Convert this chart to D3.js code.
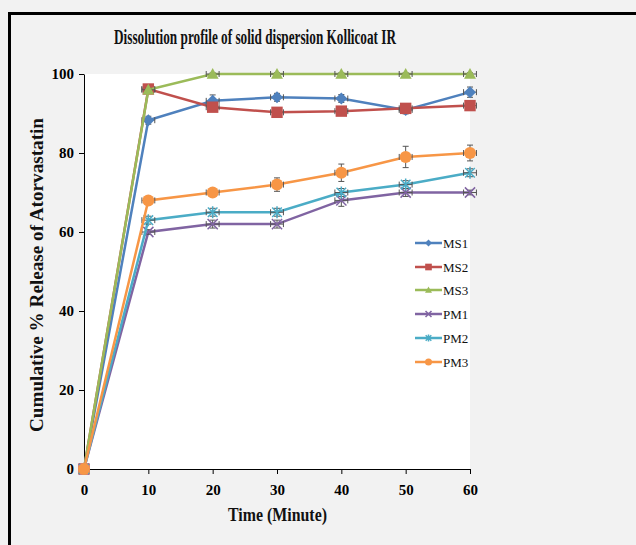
<!DOCTYPE html>
<html>
<head>
<meta charset="utf-8">
<script src="https://cdn.jsdelivr.net/npm/d3@7"></script>
<style>
  html, body { margin: 0; padding: 0; background: #f2f2f2; }
  svg { display: block; }
  .tick text { font-family: "Liberation Serif", "Times New Roman", serif; font-weight: bold; font-size: 15px; fill: #000; }
  .title { font-family: "Liberation Serif", "Times New Roman", serif; font-weight: bold; fill: #111; }
  .legend text { font-family: "Liberation Serif", "Times New Roman", serif; font-size: 13px; fill: #111; }
</style>
</head>
<body>
<div id="chart"></div>
<script>
// data
const times = [0, 10, 20, 30, 40, 50, 60];
const seriesNames = ['MS1', 'MS2', 'MS3', 'PM1', 'PM2', 'PM3'];
const ms1 = [0, 88.3, 93.2, 94.1, 93.8, 90.9, 95.4];
const ms2 = [0, 96.2, 91.6, 90.3, 90.6, 91.3, 92.0];
const ms3 = [0, 96.0, 100, 100, 100, 100, 100];
const pm1 = [0, 60, 62, 62, 68, 70, 70];
const pm2 = [0, 63, 65, 65, 70, 72, 75];
const pm3 = [0, 68, 70, 72, 75, 79, 80];
const ms1Err = [0, 1, 1.5, 1, 1, 1, 1.3];
const ms2Err = [0, 1, 1, 1, 1, 1, 1];
const ms3Err = [0, 0.4, 0.3, 0.3, 0.3, 0.3, 0.3];
const pm1Err = [0, 0.6, 1, 1, 1.5, 1, 0.6];
const pm2Err = [0, 1, 1, 1, 1, 1, 1];
const pm3Err = [0, 0.8, 1, 1.7, 2.2, 2.7, 2];
const timeErr = 1;
const xTicks = [0, 10, 20, 30, 40, 50, 60];
const yTicks = [0, 20, 40, 60, 80, 100];

const colors = ['#4f81bd', '#c0504d', '#9bbb59', '#8064a2', '#4bacc6', '#f79646'];
const markers = ['diamond', 'square', 'triangle', 'x', 'asterisk', 'circle'];
const values = [ms1, ms2, ms3, pm1, pm2, pm3];
const errors = [ms1Err, ms2Err, ms3Err, pm1Err, pm2Err, pm3Err];

const series = seriesNames.map((name, i) => ({
  name,
  color: colors[i],
  marker: markers[i],
  points: times.map((t, j) => ({ t, v: values[i][j], e: errors[i][j] })),
}));

const W = 636;
const H = 545;
const plot = { left: 84, right: 470, top: 74, bottom: 469 };

const svg = d3.select('#chart').append('svg')
  .attr('width', W)
  .attr('height', H);

svg.append('rect').attr('width', W).attr('height', H).attr('fill', '#f2f2f2');

// outer frame
svg.append('rect')
  .attr('x', 9.5).attr('y', 13.5)
  .attr('width', 700).attr('height', 600)
  .attr('fill', 'none')
  .attr('stroke', '#000')
  .attr('stroke-width', 3);

svg.append('rect')
  .attr('x', plot.left).attr('y', plot.top)
  .attr('width', plot.right - plot.left)
  .attr('height', plot.bottom - plot.top)
  .attr('fill', '#fff');

const x = d3.scaleLinear().domain([0, 60]).range([plot.left, plot.right]);
const y = d3.scaleLinear().domain([0, 100]).range([plot.bottom, plot.top]);

// axes
svg.append('g')
  .attr('transform', `translate(0,${plot.bottom})`)
  .call(d3.axisBottom(x).tickValues(xTicks).tickSize(5).tickPadding(10).tickSizeOuter(0))
  .call((g) => g.selectAll('line, path').attr('stroke', '#000'));

svg.append('g')
  .attr('transform', `translate(${plot.left},0)`)
  .call(d3.axisLeft(y).tickValues(yTicks).tickSize(5).tickPadding(5).tickSizeOuter(0))
  .call((g) => g.selectAll('line, path').attr('stroke', '#000'));

// titles
svg.append('text')
  .attr('class', 'title')
  .attr('x', 114).attr('y', 44)
  .attr('font-size', 20)
  .attr('textLength', 282)
  .attr('lengthAdjust', 'spacingAndGlyphs')
  .text('Dissolution profile of solid dispersion Kollicoat IR');

svg.append('text')
  .attr('class', 'title')
  .attr('x', 228).attr('y', 521)
  .attr('font-size', 19)
  .attr('textLength', 99)
  .attr('lengthAdjust', 'spacingAndGlyphs')
  .text('Time (Minute)');

svg.append('text')
  .attr('class', 'title')
  .attr('transform', 'translate(43,432) rotate(-90)')
  .attr('font-size', 18)
  .attr('textLength', 314)
  .attr('lengthAdjust', 'spacingAndGlyphs')
  .text('Cumulative % Release of Atorvastatin');

// marker shapes
function drawMarker(g, type, color, s) {
  const h = s / 2;
  if (type === 'diamond') {
    g.append('path').attr('d', `M0,${-h}L${h},0L0,${h}L${-h},0Z`).attr('fill', color);
  } else if (type === 'square') {
    g.append('rect').attr('x', -h * 0.95).attr('y', -h * 0.95)
      .attr('width', s * 0.95).attr('height', s * 0.95).attr('fill', color);
  } else if (type === 'triangle') {
    g.append('path').attr('d', `M0,${-h}L${h},${h * 0.8}L${-h},${h * 0.8}Z`).attr('fill', color);
  } else if (type === 'circle') {
    g.append('circle').attr('r', h).attr('fill', color);
  } else if (type === 'x') {
    const k = h * 0.85;
    g.append('path').attr('d', `M${-k},${-k}L${k},${k}M${-k},${k}L${k},${-k}`)
      .attr('stroke', color).attr('stroke-width', 1.5).attr('fill', 'none');
  } else if (type === 'asterisk') {
    const k = h * 0.8;
    g.append('path').attr('d', `M${-k},${-k}L${k},${k}M${-k},${k}L${k},${-k}M0,${-h}L0,${h}`)
      .attr('stroke', color).attr('stroke-width', 1.5).attr('fill', 'none');
  }
}

const line = d3.line().x((d) => x(d.t)).y((d) => y(d.v));

series.forEach((s) => {
  const g = svg.append('g');
  g.append('path')
    .datum(s.points)
    .attr('d', line)
    .attr('fill', 'none')
    .attr('stroke', s.color)
    .attr('stroke-width', 2.5);

  // error bars
  const eb = g.append('g').attr('stroke', '#555').attr('stroke-width', 1).attr('fill', 'none');
  s.points.filter((p) => p.t > 0).forEach((p) => {
    const px = x(p.t);
    const py = y(p.v);
    const x0 = x(p.t - timeErr);
    const x1 = x(p.t + timeErr);
    eb.append('path').attr('d', `M${x0},${py}H${x1}M${x0},${py - 3}V${py + 3}M${x1},${py - 3}V${py + 3}`);
    if (p.e > 0) {
      const y0 = y(p.v + p.e);
      const y1 = y(p.v - p.e);
      eb.append('path').attr('d', `M${px},${y0}V${y1}M${px - 3},${y0}H${px + 3}M${px - 3},${y1}H${px + 3}`);
    }
  });

  s.points.forEach((p) => {
    const m = g.append('g').attr('transform', `translate(${x(p.t)},${y(p.v)})`);
    drawMarker(m, s.marker, s.color, 12);
  });
});

// legend
const legendY = [243, 267, 290, 314, 338, 362];
const legend = svg.append('g').attr('class', 'legend');
series.forEach((s, i) => {
  const g = legend.append('g').attr('transform', `translate(415,${legendY[i]})`);
  g.append('line').attr('x1', 0).attr('x2', 27).attr('stroke', s.color).attr('stroke-width', 2.5);
  const m = g.append('g').attr('transform', 'translate(13.5,0)');
  drawMarker(m, s.marker, s.color, 7);
  g.append('text').attr('x', 28).attr('y', 4.5).text(s.name);
});
</script>
</body>
</html>
